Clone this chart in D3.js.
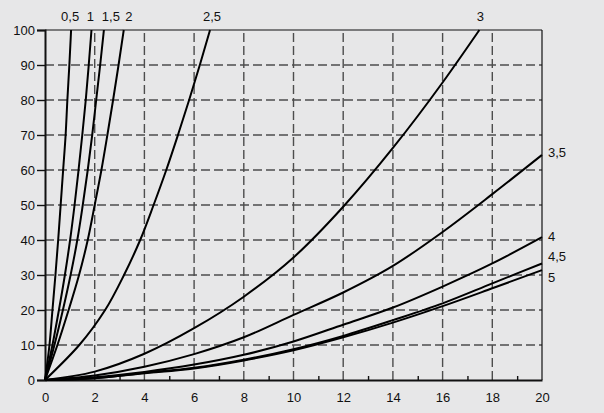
<!DOCTYPE html>
<html>
<head>
<meta charset="utf-8">
<script src="https://cdn.jsdelivr.net/npm/d3@7"></script>
<style>
  html, body { margin: 0; padding: 0; background: #e7e7e8; }
  svg { display: block; }
  text { font-family: "Liberation Sans", Arial, sans-serif; font-size: 13px; fill: #111; }
</style>
</head>
<body>
<svg id="chart" width="604" height="413"></svg>
<script>
// ---- data ----
const xTicks = [0, 2, 4, 6, 8, 10, 12, 14, 16, 18, 20];
const xMinorTicks = [1, 3, 5, 7, 9, 11, 13, 15, 17, 19];
const yTicks = [0, 10, 20, 30, 40, 50, 60, 70, 80, 90, 100];

// steep curves: x read at each y level
const yLevels = [0, 10, 20, 30, 40, 50, 60, 70, 80, 90, 100];
const xAt05 = [0, 0.18, 0.30, 0.42, 0.53, 0.63, 0.73, 0.83, 0.90, 0.98, 1.05];
const xAt1  = [0, 0.30, 0.56, 0.80, 1.01, 1.19, 1.35, 1.50, 1.64, 1.76, 1.87];
const xAt15 = [0, 0.38, 0.72, 1.03, 1.30, 1.52, 1.72, 1.90, 2.06, 2.22, 2.37];
const xAt2  = [0, 0.50, 0.95, 1.37, 1.72, 2.00, 2.27, 2.51, 2.74, 2.96, 3.17];
const xAt25 = [0, 1.38, 2.42, 3.18, 3.83, 4.37, 4.88, 5.35, 5.80, 6.23, 6.64];

// flatter curves: y read at each x level
const xLevels = [0, 2, 4, 6, 8, 10, 12, 14, 16, 18, 20];
const curve3X = [0, 2, 4, 6, 8, 10, 12, 14, 16, 17.48];
const curve3Y = [0, 2.4, 7.5, 14.8, 23.8, 35.0, 49.5, 66.3, 85.0, 100];
const yAt35 = [0, 1.3, 3.8, 7.4, 12.2, 18.6, 25.0, 32.6, 42.3, 53.1, 64.3];
const yAt4  = [0, 0.8, 2.3, 4.4, 7.2, 11.0, 15.8, 20.7, 26.7, 33.3, 40.8];
const yAt45 = [0, 0.5, 2.0, 3.5, 5.8, 8.8, 12.6, 17.1, 21.9, 27.6, 33.3];
const yAt5  = [0, 0.5, 1.9, 3.3, 5.6, 8.5, 12.2, 16.4, 21.1, 26.2, 31.4];

const topLabels = ["0,5", "1", "1,5", "2", "2,5", "3"];
const rightLabels = ["3,5", "4", "4,5", "5"];

// ---- drawing ----
const svg = d3.select("#chart");
const x = d3.scaleLinear().domain([0, 20]).range([45, 542]);
const y = d3.scaleLinear().domain([0, 100]).range([380, 30]);

const gridColor = "#4d4d4d";
const grid = svg.append("g");
grid.selectAll("line.v").data(xTicks.filter(d => d > 0 && d < 20)).enter().append("line")
  .attr("x1", d => x(d)).attr("x2", d => x(d)).attr("y1", y(0)).attr("y2", y(100))
  .attr("stroke", gridColor).attr("stroke-width", 1.4).attr("stroke-dasharray", "9,4");
grid.selectAll("line.h").data(yTicks.filter(d => d > 0 && d < 100)).enter().append("line")
  .attr("y1", d => y(d)).attr("y2", d => y(d)).attr("x1", x(0)).attr("x2", x(20))
  .attr("stroke", gridColor).attr("stroke-width", 1.4).attr("stroke-dasharray", "9,4");

// frame top/right
svg.append("line").attr("x1", x(0)).attr("x2", x(20)).attr("y1", y(100)).attr("y2", y(100))
  .attr("stroke", "#111").attr("stroke-width", 1.2);
svg.append("line").attr("x1", x(20)).attr("x2", x(20)).attr("y1", y(0)).attr("y2", y(100))
  .attr("stroke", "#111").attr("stroke-width", 1.2);

// axes
const yAxis = svg.append("g").attr("transform", `translate(${x(0)},0)`)
  .call(d3.axisLeft(y).tickValues(yTicks).tickSize(8).tickPadding(2).tickFormat(d3.format("d")));
yAxis.select(".domain").attr("stroke", "#111").attr("stroke-width", 2);
yAxis.selectAll(".tick line").attr("stroke", "#111").attr("stroke-width", 1.4);
yAxis.selectAll("text").attr("font-family", "Liberation Sans, Arial, sans-serif").attr("font-size", 13).attr("fill", "#111");

const xAxis = svg.append("g").attr("transform", `translate(0,${y(0)})`)
  .call(d3.axisBottom(x).tickValues(xTicks).tickSize(0).tickPadding(13).tickFormat(d3.format("d")));
xAxis.select(".domain").attr("stroke", "#111").attr("stroke-width", 2);
xAxis.selectAll("text").attr("font-family", "Liberation Sans, Arial, sans-serif").attr("font-size", 13).attr("fill", "#111");

const xMinor = svg.append("g").attr("transform", `translate(0,${y(0)})`)
  .call(d3.axisTop(x).tickValues(xMinorTicks).tickSize(4).tickFormat(""));
xMinor.select(".domain").remove();
xMinor.selectAll(".tick line").attr("stroke", "#111").attr("stroke-width", 1.4);

// curves
const steep = [xAt05, xAt1, xAt15, xAt2, xAt25];
const lineY = d3.line().x(d => x(d[0])).y(d => y(d[1])).curve(d3.curveMonotoneY);
const lineX = d3.line().x(d => x(d[0])).y(d => y(d[1])).curve(d3.curveMonotoneX);

const curves = svg.append("g").attr("fill", "none").attr("stroke", "#000").attr("stroke-width", 2);
steep.forEach(xs => {
  curves.append("path").attr("d", lineY(xs.map((v, i) => [v, yLevels[i]])));
});
curves.append("path").attr("d", lineX(curve3X.map((v, i) => [v, curve3Y[i]])));
[yAt35, yAt4, yAt45, yAt5].forEach(ys => {
  curves.append("path").attr("d", lineX(ys.map((v, i) => [xLevels[i], v])));
});

// labels at the top of curves
const topX = [xAt05[10], xAt1[10], xAt15[10], xAt2[10], xAt25[10], curve3X[curve3X.length - 1]];
const topOffsets = [-1, -1, 7, 5, 2, 1];
svg.append("g").selectAll("text").data(topLabels).enter().append("text")
  .attr("x", (d, i) => x(topX[i]) + topOffsets[i])
  .attr("y", 21)
  .attr("text-anchor", "middle")
  .text(d => d);

// labels at the right end
const rightY = [yAt35[10], yAt4[10], yAt45[10], yAt5[10]];
const rightOffsets = [2, 4, -2, 12];
svg.append("g").selectAll("text").data(rightLabels).enter().append("text")
  .attr("x", x(20) + 6)
  .attr("y", (d, i) => y(rightY[i]) + rightOffsets[i])
  .text(d => d);
</script>
</body>
</html>
